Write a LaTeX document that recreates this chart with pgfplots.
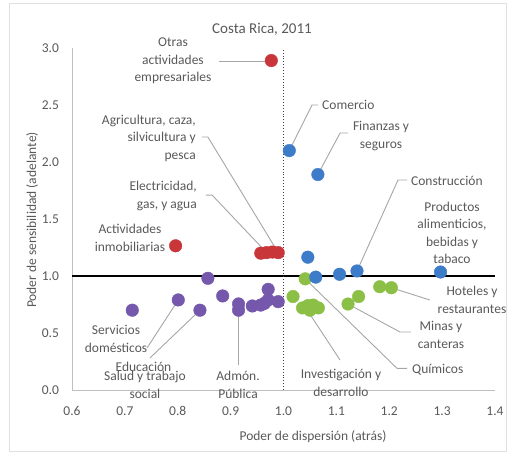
\documentclass[border=0pt]{standalone}
\usepackage{fontspec}
\setmainfont{Carlito}
\usepackage{pgfplots}
\pgfplotsset{compat=1.18}
\definecolor{cred}{HTML}{C8363A}
\definecolor{cblue}{HTML}{3D7CC9}
\definecolor{cgreen}{HTML}{8CBF45}
\definecolor{cpurple}{HTML}{7558AC}
\definecolor{txt}{HTML}{595959}
\definecolor{leadc}{HTML}{A6A6A6}
\definecolor{axc}{HTML}{BFBFBF}
\begin{document}
\begin{tikzpicture}[
  lab/.style={font=\fontsize{13.5}{17.5}\selectfont, text=txt, align=center, inner sep=0pt},
  lead/.style={draw=leadc, line width=0.9pt}]
\useasboundingbox (-72pt,-64pt) rectangle (436pt,390pt);
\draw[black!12, line width=0.6pt] (-63pt,-61pt) rectangle (434pt,387pt);
\begin{axis}[
  at={(0pt,0pt)}, anchor=south west,
  scale only axis, width=423pt, height=342pt,
  xmin=0.6, xmax=1.4, ymin=0, ymax=3,
  axis x line=bottom, axis y line=left,
  axis line style={draw=axc, line width=0.9pt, -},
  xtick={0.6,0.7,0.8,0.9,1.0,1.1,1.2,1.3,1.4},
  ytick={0,0.5,1.0,1.5,2.0,2.5,3.0},
  major tick length=0pt,
  tick label style={font=\fontsize{13.5}{16}\selectfont, text=txt},
  xticklabel style={yshift=-13pt},
  yticklabel style={xshift=-9.5pt},
  /pgf/number format/.cd, fixed, fixed zerofill, precision=1, assume math mode=true,
  /pgfplots/.cd,
  clip=false,
]
% reference lines
\draw[black, line width=1.2pt] (axis cs:0.6,1) -- (axis cs:1.4,1);
\draw[black!75, line width=0.9pt, dotted] (axis cs:1,0) -- (axis cs:1,3);
% leader lines
\draw[lead] (axis cs:0.878,2.886) -- (axis cs:0.975,2.886);
\draw[lead] (axis cs:0.846,2.219) -- (axis cs:0.857,2.219) -- (axis cs:0.99,1.205);
\draw[lead] (axis cs:0.853,1.71) -- (axis cs:0.865,1.71) -- (axis cs:0.968,1.205);
\draw[lead] (axis cs:1.0652,2.50) -- (axis cs:1.0539,2.50) -- (axis cs:1.011,2.10);
\draw[lead] (axis cs:1.122,2.254) -- (axis cs:1.107,2.254) -- (axis cs:1.065,1.89);
\draw[lead] (axis cs:1.2336,1.842) -- (axis cs:1.2166,1.842) -- (axis cs:1.139,1.044);
\draw[lead] (axis cs:1.204,0.897) -- (axis cs:1.277,0.789);
\draw[lead] (axis cs:1.122,0.754) -- (axis cs:1.2203,0.509) -- (axis cs:1.241,0.509);
\draw[lead] (axis cs:1.041,0.975) -- (axis cs:1.2147,0.19) -- (axis cs:1.2336,0.19);
\draw[lead] (axis cs:1.045,0.70) -- (axis cs:1.1069,0.263);
\draw[lead] (axis cs:0.801,0.79) -- (axis cs:0.7418,0.368);
\draw[lead] (axis cs:0.842,0.70) -- (axis cs:0.7475,0.281);
\draw[lead] (axis cs:0.915,0.70) -- (axis cs:0.915,0.219);
% data
\addplot[only marks, mark=*, mark size=6.3pt, mark options={draw=cpurple, fill=cpurple}] coordinates {
(0.714,0.70) (0.801,0.79) (0.842,0.70) (0.857,0.98) (0.885,0.825) (0.915,0.755)
(0.915,0.70) (0.941,0.737) (0.957,0.745) (0.971,0.883) (0.971,0.79) (0.99,0.775) (0.964,0.76)};
\addplot[only marks, mark=*, mark size=6.3pt, mark options={draw=cgreen, fill=cgreen}] coordinates {
(1.018,0.82) (1.041,0.975) (1.036,0.72) (1.046,0.74) (1.056,0.745) (1.066,0.72) (1.05,0.70)
(1.122,0.754) (1.142,0.82) (1.182,0.906) (1.204,0.897)};
\addplot[only marks, mark=*, mark size=6.3pt, mark options={draw=cblue, fill=cblue}] coordinates {
(1.011,2.10) (1.065,1.89) (1.046,1.165) (1.061,0.99) (1.106,1.015) (1.139,1.044) (1.297,1.035)};
\addplot[only marks, mark=*, mark size=6.3pt, mark options={draw=cred, fill=cred}] coordinates {
(0.977,2.89) (0.796,1.265) (0.957,1.20) (0.968,1.205) (0.979,1.21) (0.99,1.205)};
% labels
\node[lab] at (axis cs:0.791,2.886) {Otras\\actividades\\empresariales};
\node[lab, anchor=east, align=right] at (axis cs:0.8345,2.21) {Agricultura, caza,\\silvicultura y\\pesca};
\node[lab, anchor=east, align=right] at (axis cs:0.8364,1.70) {Electricidad,\\gas, y agua};
\node[lab] at (axis cs:0.7097,1.334) {Actividades\\inmobiliarias};
\node[lab, anchor=west] at (axis cs:1.0728,2.50) {Comercio};
\node[lab] at (axis cs:1.1844,2.228) {Finanzas y\\seguros};
\node[lab, anchor=west] at (axis cs:1.241,1.833) {Construcción};
\node[lab] at (axis cs:1.3187,1.377) {Productos\\alimenticios,\\bebidas y\\tabaco};
\node[lab] at (axis cs:1.3565,0.789) {Hoteles y\\restaurantes};
\node[lab] at (axis cs:1.2979,0.482) {Minas y\\canteras};
\node[lab, anchor=west] at (axis cs:1.243,0.18) {Químicos};
\node[lab] at (axis cs:1.1087,0.061) {Investigación y\\desarrollo};
\node[lab] at (axis cs:0.6832,0.447) {Servicios\\domésticos};
\node[lab] at (axis cs:0.7352,0.2018) {Educación};
\node[lab] at (axis cs:0.738,0.044) {Salud y trabajo\\social};
\node[lab] at (axis cs:0.914,0.044) {Admón.\\Pública};
\end{axis}
\node[font=\fontsize{15}{18}\selectfont, text=txt] at (190pt,361pt) {Costa Rica, 2011};
\node[font=\fontsize{13.5}{16}\selectfont, text=txt] at (241pt,-47pt) {Poder de dispersión (atrás)};
\node[font=\fontsize{13.5}{16}\selectfont, text=txt, rotate=90] at (-40pt,170pt) {Poder de sensibilidad (adelante)};
\end{tikzpicture}
\end{document}
